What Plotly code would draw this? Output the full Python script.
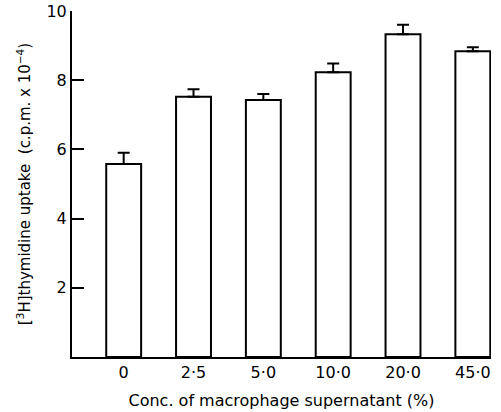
import plotly.graph_objects as go

categories = ["0", "2·5", "5·0", "10·0", "20·0", "45·0"]
uptake = [5.58, 7.52, 7.43, 8.23, 9.33, 8.84]
sem = [0.32, 0.22, 0.17, 0.25, 0.27, 0.11]
y_ticks = [2, 4, 6, 8, 10]

FONT = "DejaVu Sans"

fig = go.Figure()
fig.add_trace(go.Bar(
    x=list(range(len(categories))),
    y=uptake,
    width=0.5,
    marker=dict(color="white", line=dict(color="black", width=2)),
    error_y=dict(type="data", symmetric=False, array=sem,
                 arrayminus=[0] * len(sem), color="black",
                 thickness=2, width=6),
    showlegend=False,
))

fig.update_layout(
    width=501, height=412,
    margin=dict(l=72, r=10, t=11, b=55),
    paper_bgcolor="white", plot_bgcolor="white",
    font=dict(family=FONT, color="black", size=15),
    xaxis=dict(
        range=[-0.74, 5.26],
        automargin=False,
        tickvals=list(range(len(categories))),
        ticktext=categories,
        ticks="", showgrid=False, zeroline=False,
        showline=True, linecolor="black", linewidth=2,
        tickfont=dict(size=16),
        title=dict(text="Conc. of macrophage supernatant (%)",
                   font=dict(size=16), standoff=14),
    ),
    yaxis=dict(
        range=[0, 10],
        automargin=False,
        tickvals=y_ticks,
        ticks="inside", ticklen=12, tickwidth=2, tickcolor="black",
        showgrid=False, zeroline=False,
        showline=True, linecolor="black", linewidth=2,
        tickfont=dict(size=16),
        title=dict(text="[<sup>3</sup>H]thymidine uptake  (c.p.m. x 10<sup>−4</sup>)",
                   font=dict(size=15), standoff=12),
    ),
)

fig.write_html("out.html")
